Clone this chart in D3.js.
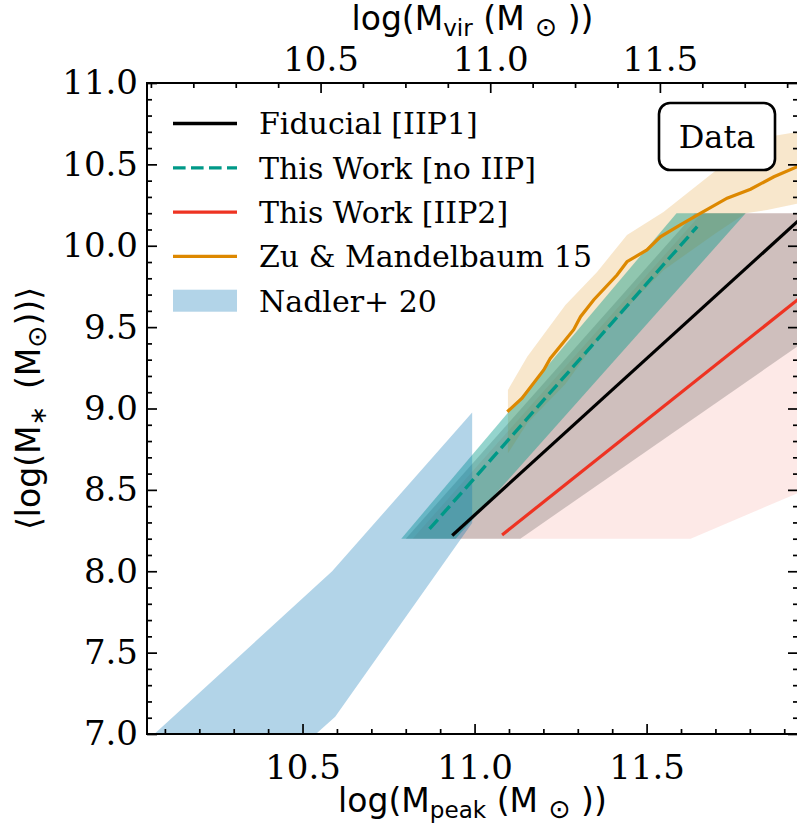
<!DOCTYPE html>
<html>
<head>
<meta charset="utf-8">
<title>Mstar vs Mpeak</title>
<script src="https://cdn.jsdelivr.net/npm/d3@7"></script>
<style>
html,body{margin:0;padding:0;background:#fff;}
svg{display:block;}
</style>
</head>
<body>
<script>
// --- data ---
// bands are filled in x between lo/hi at each M* value
var bandMstar=[8.2,10.2];
var noIipLo=[10.787,11.587];
var noIipHi=[10.945,11.788];
var fidLo=[10.800,11.640];
var fidHi=[11.133,12.497];
var iip2Lo=[10.820,11.660];
var iip2Hi=[11.628,13.850];

var fidLineMpeak=[10.935,11.965];
var fidLineMstar=[8.22,10.20];
var noIipLineMpeak=[10.869,11.647];
var noIipLineMstar=[8.26,10.117];
var iip2LineMpeak=[11.080,12.255];
var iip2LineMstar=[8.223,10.20];

var zuMpeak=[11.095,11.138,11.201,11.220,11.288,11.308,11.346,11.414,11.443,11.501,11.540,11.598,11.656,11.734,11.802,11.870,11.938];
var zuMstar=[8.980,9.063,9.237,9.308,9.484,9.564,9.667,9.820,9.902,9.974,10.055,10.128,10.199,10.292,10.347,10.424,10.486];
var zuBandMpeak=[11.097,11.153,11.264,11.356,11.443,11.549,11.703,11.788,11.850,11.940];
var zuBandHi=[9.114,9.318,9.636,9.839,10.066,10.207,10.465,10.580,10.668,10.700];
var zuBandLo=[8.725,8.909,9.150,9.420,9.620,9.850,10.080,10.200,10.220,10.260];

// Nadler+20 outline (polygon)
var nadlerMpeak=[9.966,10.586,10.993,10.993,10.595,10.433];
var nadlerMstar=[6.80,8.00,8.975,8.296,7.106,6.80];

var legendLabels=["Fiducial [IIP1]","This Work [no IIP]","This Work [IIP2]","Zu & Mandelbaum 15","Nadler+ 20"];

var xMajor=[10.5,11.0,11.5];
var yMajor=[7.0,7.5,8.0,8.5,9.0,9.5,10.0,10.5,11.0];
var topMajor=[10.5,11.0,11.5];

// --- layout ---
var W=797,H=831;
var L=147,R=798,T=83,B=734;
var serif="'DejaVu Serif', serif";
var sans="'DejaVu Sans', sans-serif";

var x=d3.scaleLinear().domain([10.048,11.940]).range([L,R]);
var xTop=d3.scaleLinear().domain([9.9885,11.907]).range([L,R]);
var y=d3.scaleLinear().domain([7,11]).range([B,T]);

var svg=d3.select("body").append("svg")
	.attr("width",W)
	.attr("height",H)
	.style("background","#fff");

svg.append("clipPath").attr("id","plotclip")
	.append("rect").attr("x",L).attr("y",T).attr("width",R-L).attr("height",B-T);

var plot=svg.append("g").attr("clip-path","url(#plotclip)");

function bandRows(lo,hi){
	return bandMstar.map(function(s,i){return {s:s,lo:lo[i],hi:hi[i]};});
}
var areaX=d3.area()
	.y(function(d){return y(d.s);})
	.x0(function(d){return x(d.lo);})
	.x1(function(d){return x(d.hi);});

var areaY=d3.area()
	.x(function(d){return x(d.m);})
	.y0(function(d){return y(d.lo);})
	.y1(function(d){return y(d.hi);});

var line=d3.line()
	.x(function(d){return x(d[0]);})
	.y(function(d){return y(d[1]);});

// bands
plot.append("path").datum(bandRows(iip2Lo,iip2Hi))
	.attr("d",areaX).attr("fill","#EE3322").attr("fill-opacity",0.11);
plot.append("path").datum(bandRows(fidLo,fidHi))
	.attr("d",areaX).attr("fill","#000").attr("fill-opacity",0.18);
plot.append("path").datum(zuBandMpeak.map(function(m,i){return {m:m,lo:zuBandLo[i],hi:zuBandHi[i]};}))
	.attr("d",areaY).attr("fill","#DD8800").attr("fill-opacity",0.2);
plot.append("path").datum(bandRows(noIipLo,noIipHi))
	.attr("d",areaX).attr("fill","#009988").attr("fill-opacity",0.42);
plot.append("path").datum(d3.zip(nadlerMpeak,nadlerMstar))
	.attr("d",function(d){return line(d)+"Z";})
	.attr("fill","#0072B2").attr("fill-opacity",0.3);

// lines
plot.append("path").datum(d3.zip(zuMpeak,zuMstar))
	.attr("d",line).attr("fill","none").attr("stroke","#DD8800").attr("stroke-width",3.2);
plot.append("path").datum(d3.zip(noIipLineMpeak,noIipLineMstar))
	.attr("d",line).attr("fill","none").attr("stroke","#009988").attr("stroke-width",3.4)
	.attr("stroke-dasharray","12.6,5.4");
plot.append("path").datum(d3.zip(fidLineMpeak,fidLineMstar))
	.attr("d",line).attr("fill","none").attr("stroke","#000").attr("stroke-width",3.2);
plot.append("path").datum(d3.zip(iip2LineMpeak,iip2LineMstar))
	.attr("d",line).attr("fill","none").attr("stroke","#EE3322").attr("stroke-width",3.2);

// axes
function minorTicks(lo,hi,step,majors){
	return d3.range(Math.round(lo/step),Math.round(hi/step)+1)
		.map(function(k){return +(k*step).toFixed(4);})
		.filter(function(v){return majors.indexOf(v)<0;});
}
var xMinor=minorTicks(10.1,11.9,0.1,xMajor);
var yMinor=minorTicks(7.0,11.0,0.1,yMajor);
var topMinor=minorTicks(10.0,11.875,0.125,topMajor);

function styleAxis(g,size){
	g.select(".domain").remove();
	g.selectAll("line").attr("stroke","#000").attr("stroke-width",1.7);
	g.selectAll("text").attr("font-family",serif).attr("font-size",size).attr("fill","#000");
}
var fmt=d3.format(".1f");
var tickFont=34;

svg.append("g").attr("transform","translate(0,"+B+")")
	.call(d3.axisBottom(x).tickValues(xMajor).tickFormat(fmt).tickSize(-10).tickPadding(21))
	.call(styleAxis,tickFont);
svg.append("g").attr("transform","translate(0,"+B+")")
	.call(d3.axisBottom(x).tickValues(xMinor).tickFormat("").tickSize(-5))
	.call(styleAxis,tickFont);
svg.append("g").attr("transform","translate("+L+",0)")
	.call(d3.axisLeft(y).tickValues(yMajor).tickFormat(fmt).tickSize(-10).tickPadding(9))
	.call(styleAxis,tickFont);
svg.append("g").attr("transform","translate("+L+",0)")
	.call(d3.axisLeft(y).tickValues(yMinor).tickFormat("").tickSize(-5))
	.call(styleAxis,tickFont);
svg.append("g").attr("transform","translate("+R+",0)")
	.call(d3.axisRight(y).tickValues(yMajor).tickFormat("").tickSize(-10))
	.call(styleAxis,tickFont);
svg.append("g").attr("transform","translate("+R+",0)")
	.call(d3.axisRight(y).tickValues(yMinor).tickFormat("").tickSize(-5))
	.call(styleAxis,tickFont);
svg.append("g").attr("transform","translate(0,"+T+")")
	.call(d3.axisTop(xTop).tickValues(topMajor).tickFormat(fmt).tickSize(-10).tickPadding(12))
	.call(styleAxis,tickFont);
svg.append("g").attr("transform","translate(0,"+T+")")
	.call(d3.axisTop(xTop).tickValues(topMinor).tickFormat("").tickSize(-5))
	.call(styleAxis,tickFont);

// frame
svg.append("rect").attr("x",L).attr("y",T).attr("width",R-L).attr("height",B-T)
	.attr("fill","none").attr("stroke","#000").attr("stroke-width",2);

// axis titles with sub-scripts
function mathLabel(sel,parts,size){
	var shift=size*0.18;
	var cur=0;
	parts.forEach(function(p){
		var t=sel.append("tspan").text(p[0]);
		var want=p[1]?shift:0;
		t.attr("dy",want-cur);
		if(p[1])t.attr("font-size",size*(p[2]||0.7));
		cur=want;
	});
}
var titleFont=33;
var tb=svg.append("text").attr("x",(L+R)/2).attr("y",812)
	.attr("text-anchor","middle").attr("font-family",sans).attr("font-size",titleFont);
mathLabel(tb,[["log(M"],["peak",1],[" (M "],["\u2299",1,0.8],[" ))"]],titleFont);

var tt=svg.append("text").attr("x",(L+R)/2).attr("y",30)
	.attr("text-anchor","middle").attr("font-family",sans).attr("font-size",titleFont);
mathLabel(tt,[["log(M"],["vir",1],[" (M "],["\u2299",1,0.8],[" ))"]],titleFont);

var tl=svg.append("text").attr("transform","translate(40,"+((T+B)/2)+") rotate(-90)")
	.attr("text-anchor","middle").attr("font-family",sans).attr("font-size",titleFont);
mathLabel(tl,[["\u27E8log(M"],["\u2217",1],["\u2009 (M"],["\u2299",1,0.8],["))\u27E9"]],titleFont);

// legend
var legendFont=30;
var lg=svg.append("g");
var rows=lg.selectAll("g").data(legendLabels).enter().append("g")
	.attr("transform",function(d,i){return "translate(173,"+(123.5+i*44.3)+")";});
rows.append("text").attr("x",86).attr("dy","0.36em")
	.attr("font-family",serif).attr("font-size",legendFont).text(function(d){return d;});
var styles=[
	{c:"#000",dash:null},
	{c:"#009988",dash:"12.6,5.4"},
	{c:"#EE3322",dash:null},
	{c:"#DD8800",dash:null}
];
rows.filter(function(d,i){return i<4;}).append("line")
	.attr("x1",0).attr("x2",64).attr("y1",0).attr("y2",0)
	.attr("stroke",function(d,i){return styles[i].c;})
	.attr("stroke-width",3.3)
	.attr("stroke-dasharray",function(d,i){return styles[i].dash;});
rows.filter(function(d,i){return i==4;}).append("rect")
	.attr("x",0).attr("y",-11).attr("width",64).attr("height",22)
	.attr("fill","#0072B2").attr("fill-opacity",0.3);

// "Data" box
svg.append("rect").attr("x",659).attr("y",103).attr("width",116).attr("height",67)
	.attr("rx",11).attr("fill","#fff").attr("stroke","#000").attr("stroke-width",2.6);
svg.append("text").attr("x",717).attr("y",136.5).attr("dy","0.36em")
	.attr("text-anchor","middle").attr("font-family",serif).attr("font-size",32).text("Data");
</script>
</body>
</html>
